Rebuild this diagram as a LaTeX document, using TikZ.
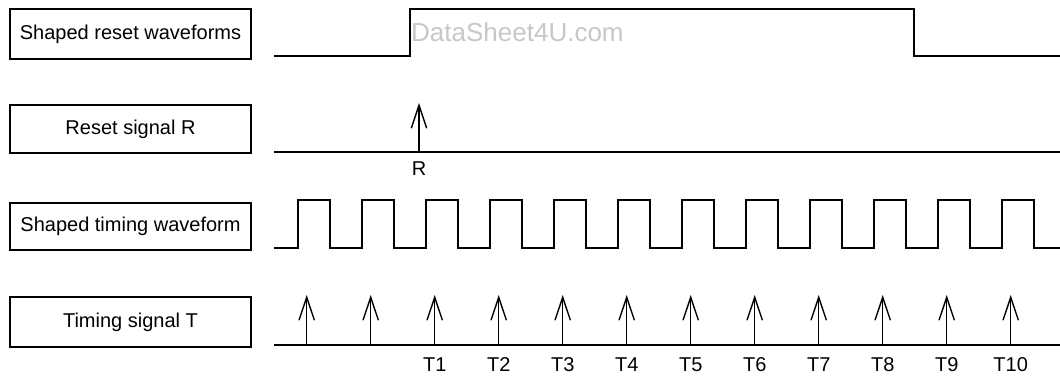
\documentclass[tikz,border=0pt]{standalone}
\usepackage{fontspec}
\setmainfont{Liberation Sans}
\usetikzlibrary{arrows.meta}
\tikzset{
  labelbox/.style={draw, line width=1.2pt, minimum width=241pt, inner sep=0pt,
    font=\fontsize{20}{24}\selectfont},
  wave/.style={line width=1.4pt, line join=miter},
  sigarrow/.style={line width=1.4pt, -{Straight Barb[length=23pt, width=15.4pt, line width=1.4pt]}},
  ticklabel/.style={anchor=base, inner sep=0pt, font=\fontsize{20}{24}\selectfont},
  watermark/.style={anchor=base west, inner sep=0pt, text=black!22, font=\fontsize{26}{30}\selectfont}
}
\begin{document}
\begin{tikzpicture}[x=1pt,y=-1pt]
\useasboundingbox (0,0) rectangle (1060,376);
% label boxes
\node[labelbox, minimum height=50pt] (b1) at (130.5,34) {Shaped reset waveforms};
\node[labelbox, minimum height=48pt] (b2) at (130.5,129) {Reset signal R};
\node[labelbox, minimum height=47pt] (b3) at (130.5,226.5) {Shaped timing waveform};
\node[labelbox, minimum height=50pt] (b4) at (130.5,322) {Timing signal T};
% watermark
\node[watermark] (wm) at (411,41) {DataSheet4U.com};
% shaped reset waveform
\draw[wave] (274,56) -- (410,56) -- (410,9) -- (914,9) -- (914,56) -- (1060,56);
% reset signal R
\coordinate (rs0) at (274,152);
\coordinate (rs1) at (1060,152);
\draw[wave] (rs0) -- (rs1);
\coordinate (rb) at (419,152);
\coordinate (rt) at (419,103);
\draw[sigarrow] (rb) -- (rt);
\node[ticklabel] (rl) at (419,175) {R};
% shaped timing waveform
\draw[wave] (274,248)
  \foreach \k in {0,...,11} {
    -- ({298+64*\k},248) -- ({298+64*\k},200) -- ({330+64*\k},200) -- ({330+64*\k},248)
  } -- (1060,248);
% timing signal T
\coordinate (ts0) at (274,345);
\coordinate (ts1) at (1060,345);
\draw[wave] (ts0) -- (ts1);
\foreach \k in {0,...,11} {
  \coordinate (tb\k) at ({306.7+64*\k},345);
  \coordinate (tt\k) at ({306.7+64*\k},295);
  \draw[sigarrow] (tb\k) -- (tt\k);
}
\foreach \k [evaluate=\k as \n using int(\k-1)] in {2,...,11} {
  \node[ticklabel] (tl\k) at ({306.7+64*\k},371.5) {T\n};
}
\end{tikzpicture}
\end{document}
